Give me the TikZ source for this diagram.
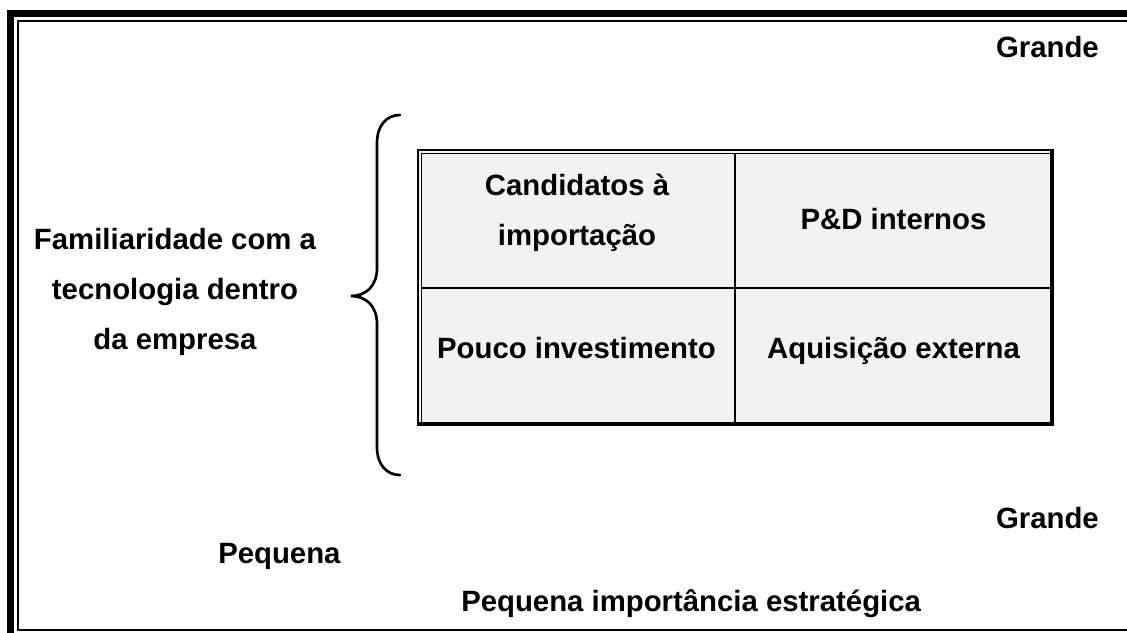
\documentclass[tikz,border=0pt]{standalone}
\usepackage{fontspec}
\setmainfont{Liberation Sans}
\begin{document}
\begin{tikzpicture}[x=0.75pt,y=-0.75pt,
  lbl/.style={font=\fontsize{22}{37.5}\selectfont\bfseries, inner sep=0pt, anchor=base},
  gridline/.style={line width=1.5pt},
  bracestyle/.style={line width=2pt, line cap=round}]
\useasboundingbox (0,0) rectangle (1127,632);
\clip (0,0) rectangle (1127,632);
% outer frame
\draw[line width=5.4pt] (10.7,13.4) rectangle (1150,650);
\draw[line width=1.5pt] (18.3,20.6) rectangle (1140,630);
% table
\fill[black!5] (418,150) rectangle (1052,425);
\draw[line width=1.8pt] (418,150) rectangle (1052,425);
\draw[line width=0.8pt] (421.5,153.3) -- (1050,153.3);
\draw[line width=0.8pt] (421.5,153.3) -- (421.5,423);
\draw[line width=2.6pt] (1052,149) -- (1052,426);
\draw[line width=2.6pt] (417,424) -- (1053,424);
\coordinate (mt) at (735,153.3);
\coordinate (mb) at (735,424);
\coordinate (ml) at (421.5,288);
\coordinate (mr) at (1052,288);
\draw[gridline] (mt) -- (mb);
\draw[gridline] (ml) -- (mr);
% cells
\node[lbl] (c11a) at (577,195) {Candidatos à};
\node[lbl] (c11b) at (577,245) {importação};
\node[lbl] (c12) at (893.5,229) {P\&D internos};
\node[lbl] (c21) at (576.5,358) {Pouco investimento};
\node[lbl] (c22) at (893.5,358) {Aquisição externa};
% brace
\coordinate (bt) at (400,115);
\coordinate (bm) at (351,296);
\coordinate (bb) at (400,475);
\draw[bracestyle]
  (bt) .. controls (386,115) and (377,126) .. (377,143)
  -- (377,268) .. controls (377,286) and (366,296) .. (bm)
  .. controls (366,296) and (377,306) .. (377,324)
  -- (377,447) .. controls (377,464) and (386,475) .. (bb);
% labels
\node[lbl] (fam1) at (175,249) {Familiaridade com a};
\node[lbl] (fam2) at (175,299) {tecnologia dentro};
\node[lbl] (fam3) at (175,349) {da empresa};
\node[lbl, anchor=base east] (gtop) at (1099,57) {Grande};
\node[lbl, anchor=base east] (gbot) at (1099,528) {Grande};
\node[lbl, anchor=base west] (peq) at (218,563) {Pequena};
\node[lbl, anchor=base west] (tit) at (461,611) {Pequena importância estratégica};
\end{tikzpicture}
\end{document}
